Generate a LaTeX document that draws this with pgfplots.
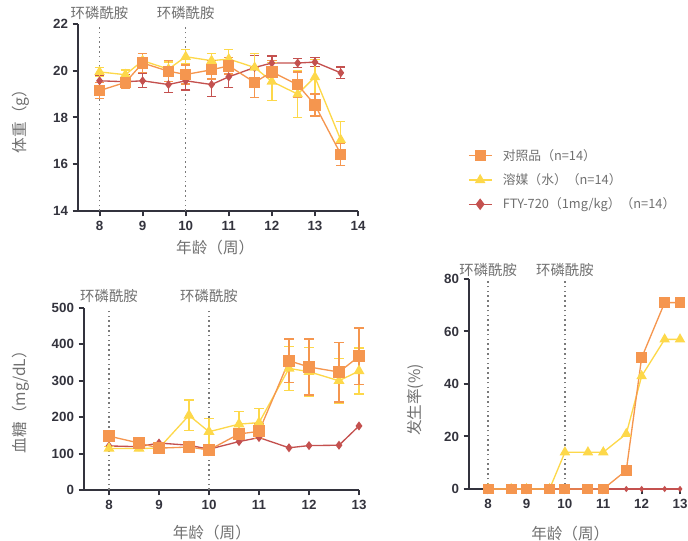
\documentclass[border=0pt]{standalone}
\usepackage{pgfplots}
\pgfplotsset{compat=1.18}
\usepackage{pgfplotstable}
\usepackage{fontspec}
\setmainfont{Liberation Sans}
\newfontfamily\cjk{Noto Sans CJK SC}
\definecolor{orangec}{HTML}{F5964F}
\definecolor{yellowc}{HTML}{FDD84A}
\definecolor{redc}{HTML}{C4514F}
\definecolor{axisc}{HTML}{33333D}
\definecolor{labelc}{HTML}{707070}
\definecolor{dotc}{HTML}{7A7A7A}

\pgfplotstableread{
x o oe y ye r re
8 19.15 0.35 19.95 0.20 19.57 0.25
8.6 19.50 0.25 19.83 0.20 19.53 0.30
9 20.33 0.40 20.43 0.30 19.57 0.30
9.6 19.98 0.45 20.07 0.30 19.41 0.35
10 19.84 0.40 20.60 0.30 19.57 0.40
10.6 20.04 0.40 20.43 0.30 19.41 0.50
11 20.21 0.35 20.50 0.40 19.74 0.45
11.6 19.50 0.65 20.14 0.60 20.14 0.50
12 19.95 0.50 19.54 0.80 20.33 0.30
12.6 19.40 0.55 19.00 1.00 20.33 0.20
13 18.54 0.47 19.73 0.75 20.37 0.20
13.6 16.43 0.48 17.04 0.78 19.91 0.25
}\weight

\pgfplotstableread{
x o oe y ye r
8 148 5 114 5 121
8.6 129 5 114 5 119
9 115 5 115 5 129
9.6 118 5 205 42 123
10 110 5 160 37 112
10.6 154 10 181 35 133
11 161 20 185 38 144
11.6 355 60 334 61 116
12 338 77 325 67 122
12.6 324 82 300 62 123
13 367 78 327 63 176
}\glucose

\pgfplotstableread{
x o y r
8 0 0 0
8.6 0 0 0
9 0 0 0
9.6 0 0 0
10 0 14 0
10.6 0 14 0
11 0 14 0
11.6 7.1 21 0
12 50 43 0
12.6 71 57 0
13 71 57 0
}\incid

\tikzset{
  ann/.style={font=\cjk\fontsize{10.8}{12}\selectfont, text=labelc},
  vdot/.style={dotc, line width=1.2pt, dash pattern=on 1.2pt off 2.4pt},
}
\pgfplotsset{
  base/.style={
    scale only axis, clip=false,
    axis x line*=bottom, axis y line*=left,
    axis line style={line width=1.5pt, color=axisc, -},
    every tick/.style={line width=1.5pt, color=axisc},
    tick align=outside, major tick length=4pt,
    tick label style={font=\fontsize{10}{12}\selectfont\bfseries, text=axisc},
    /pgf/number format/assume math mode=true,
    label style={font=\cjk\fontsize{11.7}{14}\selectfont, text=labelc},
    xlabel={年龄（周）},
  },
  eb/.style={error bars/.cd, y dir=both, y explicit,
    error bar style={line width=1pt, color=#1},
    error mark options={rotate=90, mark size=3.5pt, line width=1pt, color=#1}},
}

\begin{document}
\begin{tikzpicture}
\path[use as bounding box] (0,0) rectangle (516pt,405.75pt);

% ---------- top panel: body weight ----------
\begin{axis}[base,
  at={(58.5pt,247.5pt)}, anchor=south west,
  width=210pt, height=140.25pt,
  xmin=7.5, xmax=14, ymin=14, ymax=22,
  xtick={8,...,14}, ytick={14,16,18,20,22},
  ylabel={体重（g）},
  ylabel style={at={(axis description cs:-0.204,0.5)}, anchor=center},
  xlabel style={at={(axis description cs:0.49,-0.198)}, anchor=center},
  legend style={at={(axis description cs:1.378,0.166)}, anchor=west,
    draw=none, fill=none, font=\cjk\fontsize{9.6}{11}\selectfont,
    text=labelc, row sep=4.5pt,
    /tikz/every odd column/.append style={column sep=6pt}},
  legend cell align=left,
]
\draw[vdot] (axis cs:8,14) -- (axis cs:8,22);
\draw[vdot] (axis cs:10,14) -- (axis cs:10,22);
\node[ann] at (axis cs:8,22) [yshift=8pt] {环磷酰胺};
\node[ann] at (axis cs:10,22) [yshift=8pt] {环磷酰胺};
\addlegendimage{color=orangec, line width=1pt, mark=square*, mark size=3.6pt}
\addlegendentry{对照品（n=14）}
\addlegendimage{color=yellowc, line width=1pt, mark=triangle*, mark size=3.6pt}
\addlegendentry{溶媒（水）（n=14）}
\addlegendimage{color=redc, line width=1pt, mark=diamond*, mark size=3.6pt}
\addlegendentry{FTY-720（1mg/kg）（n=14）}
\addplot[forget plot, color=redc, line width=1pt, mark=diamond*, mark size=2.6pt, eb=redc]
  table[x=x, y=r, y error=re] {\weight};
\addplot[forget plot, color=yellowc, line width=1pt, mark=triangle*, mark size=3.6pt, eb=yellowc]
  table[x=x, y=y, y error=ye] {\weight};
\addplot[forget plot, color=orangec, line width=1pt, mark=square*, mark size=3.75pt, eb=orangec]
  table[x=x, y=o, y error=oe] {\weight};
\end{axis}

% ---------- bottom-left: glucose ----------
\begin{axis}[base,
  at={(63pt,38.25pt)}, anchor=south west,
  width=206.25pt, height=136.5pt,
  xmin=7.5, xmax=13, ymin=0, ymax=500,
  xtick={8,...,13}, ytick={0,100,...,500},
  ylabel={血糖（mg/dL）},
  ylabel style={at={(axis description cs:-0.229,0.505)}, anchor=center},
  xlabel style={at={(axis description cs:0.465,-0.236)}, anchor=center},
]
\draw[vdot] (axis cs:8,0) -- (axis cs:8,500);
\draw[vdot] (axis cs:10,0) -- (axis cs:10,500);
\node[ann] at (axis cs:8,500) [yshift=9pt] {环磷酰胺};
\node[ann] at (axis cs:10,500) [yshift=9pt] {环磷酰胺};
\addplot[color=redc, line width=1pt, mark=diamond*, mark size=2.6pt]
  table[x=x, y=r] {\glucose};
\addplot[color=yellowc, line width=1pt, mark=triangle*, mark size=3.8pt, eb=yellowc]
  table[x=x, y=y, y error=ye] {\glucose};
\addplot[color=orangec, line width=1pt, mark=square*, mark size=4pt, eb=orangec]
  table[x=x, y=o, y error=oe] {\glucose};
\end{axis}

% ---------- bottom-right: incidence ----------
\begin{axis}[base,
  at={(351.75pt,39pt)}, anchor=south west,
  width=158.25pt, height=157.5pt,
  xmin=7.5, xmax=13, ymin=0, ymax=80,
  xtick={8,...,13}, ytick={0,20,...,80},
  ylabel={发生率(\%)},
  ylabel style={at={(axis description cs:-0.256,0.424)}, anchor=center},
  xlabel style={at={(axis description cs:0.48,-0.21)}, anchor=center},
]
\draw[vdot] (axis cs:8,0) -- (axis cs:8,80);
\draw[vdot] (axis cs:10,0) -- (axis cs:10,80);
\node[ann] at (axis cs:8,80) [yshift=7pt] {环磷酰胺};
\node[ann] at (axis cs:10,80) [yshift=7pt] {环磷酰胺};
\addplot[color=redc, line width=1pt, mark=diamond*, mark size=1.6pt]
  table[x=x, y=r] {\incid};
\addplot[color=yellowc, line width=1pt, mark=triangle*, mark size=3.6pt]
  table[x=x, y=y] {\incid};
\addplot[color=orangec, line width=1pt, mark=square*, mark size=3.6pt]
  table[x=x, y=o] {\incid};
\end{axis}
\end{tikzpicture}
\end{document}
